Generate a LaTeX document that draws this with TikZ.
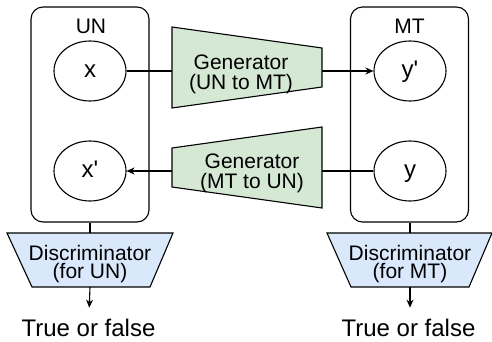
\documentclass[tikz,border=0pt]{standalone}
\usepackage{fontspec}
\setmainfont{Liberation Sans}[Ligatures=TeXOff]
\usetikzlibrary{shapes.geometric}
\usetikzlibrary{arrows.meta}

\definecolor{genfill}{HTML}{D5E8D4}
\definecolor{disfill}{HTML}{DAE8FC}

\begin{document}
\begin{tikzpicture}[x=1pt, y=-1pt, line width=1.1pt,
		    every node/.style={inner sep=0pt},
		    sidebox/.style={draw, rounded corners=12pt, minimum width=118pt, minimum height=215pt},
		    word/.style={font=\fontsize{21}{21}\selectfont},
		    var/.style={draw, ellipse, minimum width=72pt, minimum height=60pt,
		                text height=13pt, text depth=0pt, font=\fontsize{24}{24}\selectfont},
		    gen/.style={draw, fill=genfill},
		    dis/.style={draw, fill=disfill},
		    gentext/.style={align=center, font=\fontsize{21}{20}\selectfont},
		    distext/.style={align=center, font={\fontsize{21}{18}\selectfont\lineskiplimit=-20pt}},
		    result/.style={inner ysep=11pt, font=\fontsize{24}{24}\selectfont},
		    arr/.style={-{Stealth[length=8pt, width=7pt, inset=2.5pt]}}]

\useasboundingbox (0,0) rectangle (492,342);

\node[sidebox] (un) at (90,114.5) {};
\node[sidebox] (mt) at (409.5,114.5) {};
\node[word] (unname) at (91,26) {UN};
\node[word] (mtname) at (409.5,26) {MT};

\node[var] (x) at (90,71) {x};
\node[var] (xp) at (90,171) {x'};
\node[var] (yp) at (410,71) {y'};
\node[var] (y) at (410,171) {y};

\draw[gen] (172,27) -- (322,48) -- (322,87) -- (172,108) -- cycle;
\draw[gen] (172,148) -- (322,127) -- (322,208) -- (172,187) -- cycle;
\node[gentext] (g1) at (241,74.5) {Generator\\(UN to MT)};
\node[gentext] (g2) at (252,173.2) {Generator\\(MT to UN)};

\draw[dis] (7,233) -- (173,233) -- (150,287) -- (32,287) -- cycle;
\draw[dis] (327,233) -- (492,233) -- (469,287) -- (351,287) -- cycle;
\node[distext] (d1) at (90,264) {Discriminator\\(for UN)};
\node[distext] (d2) at (410,264) {Discriminator\\(for MT)};

\node[result] (r1) at (88.5,328) {True or false};
\node[result] (r2) at (408.5,328) {True or false};

\coordinate (g1in) at (172,71);
\coordinate (g1out) at (322,71);
\coordinate (g2in) at (322,171);
\coordinate (g2out) at (172,171);
\coordinate (d1in) at (90,233);
\coordinate (d1out) at (90,287);
\coordinate (d2in) at (410,233);
\coordinate (d2out) at (410,287);

\draw (x) -- (g1in);
\draw[arr] (g1out) -- (yp);
\draw (y) -- (g2in);
\draw[arr] (g2out) -- (xp);

\draw (un) -- (d1in);
\draw (mt.south -| d2in) -- (d2in);
\draw[arr] (d1out) -- (r1);
\draw[arr] (d2out) -- (r2.north -| d2out);
\end{tikzpicture}
\end{document}
